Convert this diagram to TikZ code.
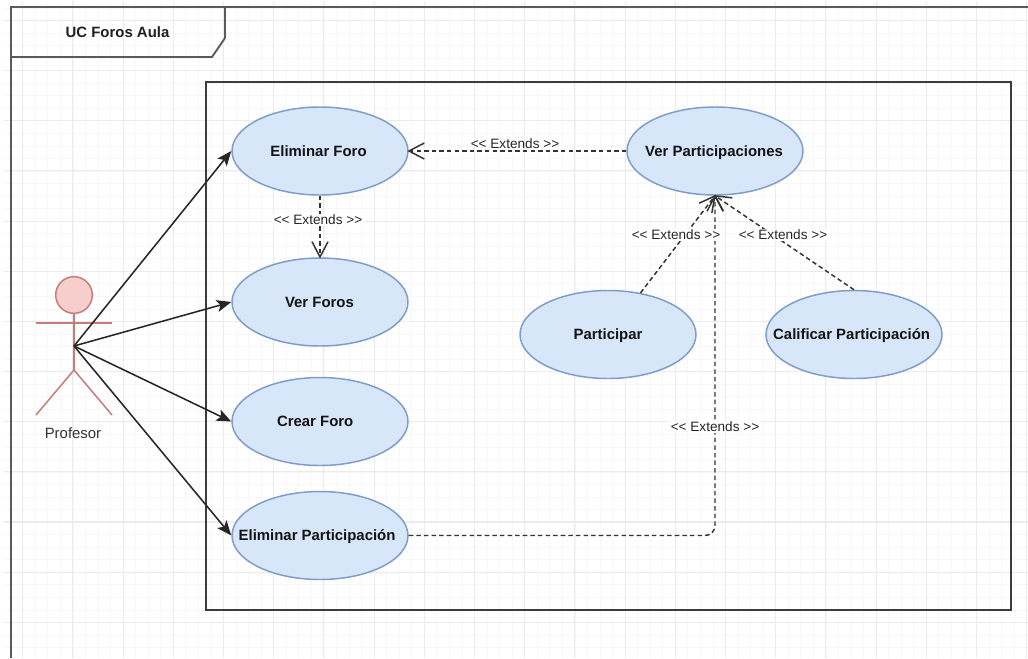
\documentclass[tikz,border=0pt]{standalone}
\usepackage{fontspec}
\setmainfont[Ligatures=NoCommon]{Liberation Sans}
\usetikzlibrary{shapes.geometric,arrows.meta}
\definecolor{gridmajor}{HTML}{EBEBEB}
\definecolor{gridminor}{HTML}{F7F7F7}
\definecolor{framecol}{HTML}{5A5A5A}
\definecolor{boxcol}{HTML}{3C3C3C}
\definecolor{ucfill}{HTML}{D8E6FA}
\definecolor{ucline}{HTML}{7E9CC8}
\definecolor{actfill}{HTML}{F8CECC}
\definecolor{actline}{HTML}{C67B78}
\definecolor{dashcol}{HTML}{333333}
\newcommand{\uctext}[2][0pt]{\makebox[0pt][c]{\raisebox{-4pt}[0pt][0pt]{\kern#1\kern#1 #2}}}
\newcommand{\extext}{{<}{<} Extends {>}{>}}
\tikzset{
  usecase/.style={ellipse,draw=ucline,fill=ucfill,line width=1.1pt,minimum width=132pt,minimum height=66pt,inner sep=0pt,font=\fontsize{11.2}{12}\selectfont\bfseries,text=black!92},
  actorline/.style={draw=actline,line width=1.1pt},
  assoc/.style={draw=black!85,line width=1.15pt,-{Stealth[length=11pt,width=9pt,inset=2.5pt]}},
  extend/.style={draw=dashcol,line width=1.1pt,dash pattern=on 3.4pt off 2.3pt,-{Straight Barb[length=11.5pt,width=12pt,line width=1.1pt]},shorten >=-1pt},
  extlabel/.style={fill=white,inner sep=1pt,font=\fontsize{10.2}{12}\selectfont,text=black!85},
  framestyle/.style={draw=framecol,line width=1.4pt},
  boxstyle/.style={draw=boxcol,line width=1.1pt}
}
\begin{document}
\begin{tikzpicture}[x=0.75pt,y=-0.75pt]
\useasboundingbox (0,0) rectangle (1028,658);
\fill[white] (0,0) rectangle (1028,658);
% grid
\foreach \i in {0,...,82}{
  \pgfmathsetmacro{\gx}{10.15+12.55*\i}
  \draw[gridminor,line width=0.6pt] (\gx,1) -- (\gx,658);
}
\foreach \i in {0,...,52}{
  \pgfmathsetmacro{\gy}{8+12.54*\i}
  \draw[gridminor,line width=0.6pt] (4,\gy) -- (1028,\gy);
}
\foreach \i in {0,...,20}{
  \pgfmathsetmacro{\gx}{22.7+50.2*\i}
  \draw[gridmajor,line width=0.8pt] (\gx,1) -- (\gx,658);
}
\foreach \i in {0,...,12}{
  \pgfmathsetmacro{\gy}{20.5+50.15*\i}
  \draw[gridmajor,line width=0.8pt] (4,\gy) -- (1028,\gy);
}
% frame
\draw[framestyle] (11,658) -- (11,7) -- (1028,7);
\draw[framestyle] (11,57) -- (212,57) -- (225,38) -- (225,7);
\node[font=\fontsize{11.2}{12}\selectfont\bfseries,text=black!88] (title) at (117.5,32) {UC Foros Aula};
% system box
\draw[boxstyle] (206,82) rectangle (1011,610);
% actor
\node[circle,draw=actline,fill=actfill,line width=1.1pt,minimum size=27.5pt,inner sep=0pt] (head) at (74,295) {};
\coordinate (hip) at (74,370);
\coordinate (armL) at (36,323);
\coordinate (armR) at (112,323);
\coordinate (footL) at (36,415);
\coordinate (footR) at (112,415);
\coordinate (actor) at (74,346);
\draw[actorline] (head.south) -- (hip);
\draw[actorline] (armL) -- (armR);
\draw[actorline] (footL) -- (hip) -- (footR);
\node[font=\fontsize{11.2}{12}\selectfont,text=black!80] (proflabel) at (73,433) {Profesor};
% use cases
\node[usecase] (ef) at (320,151) {\uctext[-1.1pt]{Eliminar Foro}};
\node[usecase] (vf) at (320,302) {\uctext[-0.4pt]{Ver Foros}};
\node[usecase] (cf) at (320,421.5) {\uctext[-3.6pt]{Crear Foro}};
\node[usecase] (ep) at (320,535.5) {\uctext[-2.2pt]{Eliminar Participación}};
\node[usecase] (vp) at (715,151) {\uctext[-0.7pt]{Ver Participaciones}};
\node[usecase] (pa) at (608,334.5) {\uctext{Participar}};
\node[usecase] (ca) at (854,334.5) {\uctext[-1.8pt]{Calificar Participación}};
% associations
\draw[assoc] (actor) -- (ef.west);
\draw[assoc] (actor) -- (vf.west);
\draw[assoc] (actor) -- (cf.west);
\draw[assoc] (actor) -- (ep.west);
% extends
\draw[extend] (ef.south) -- (vf.north);
\draw[extend] (vp.west) -- (ef.east);
\draw[extend] (pa.52) -- (vp.south);
\draw[extend] (ca.north) -- (vp.south);
\draw[extend,rounded corners=7.5pt] (ep.east) -| (vp.south);
% labels
\node[extlabel] (l1) at (318,220) {\extext};
\node[extlabel,fill=none] (l2) at (515,143.5) {\extext};
\node[extlabel] (l3) at (676,235) {\extext};
\node[extlabel] (l4) at (783,235) {\extext};
\node[extlabel] (l5) at (715,427) {\extext};
\end{tikzpicture}
\end{document}
